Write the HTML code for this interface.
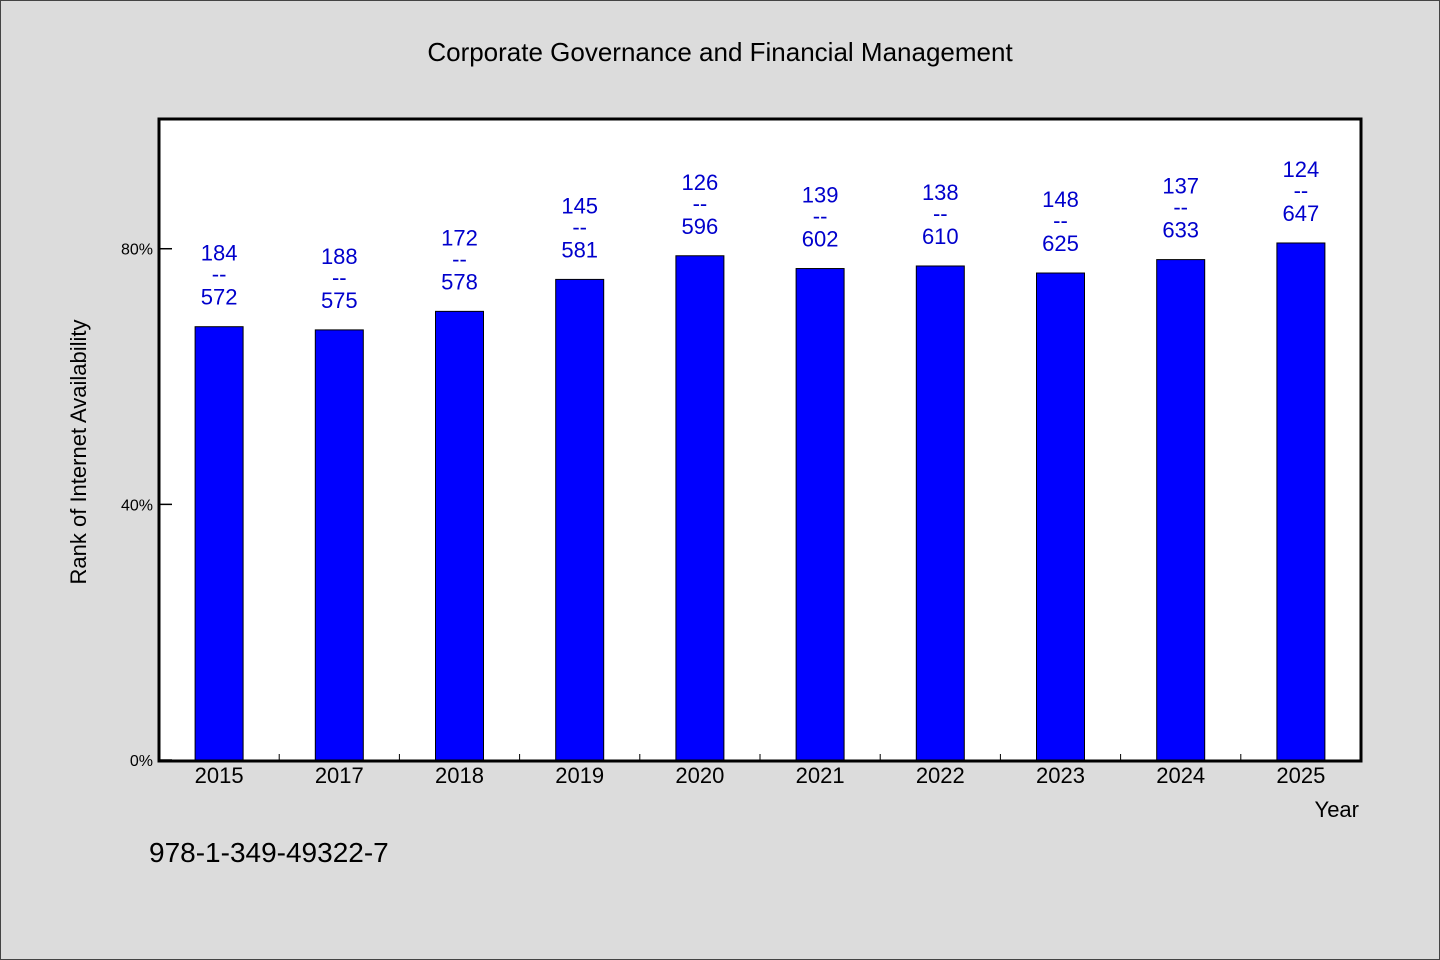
<!DOCTYPE html>
<html><head><meta charset="utf-8"><style>
body{margin:0;background:#dcdcdc;}
svg{display:block;font-family:"WenQuanYi Zen Hei","Liberation Sans",sans-serif;}
</style></head><body>
<svg width="1440" height="960" viewBox="0 0 1440 960">
<rect x="0.5" y="0.5" width="1439" height="959" fill="#dcdcdc" stroke="#444"/>
<text x="720" y="61" text-anchor="middle" font-size="26" fill="#000">Corporate Governance and Financial Management</text>
<rect x="159" y="119" width="1202" height="642" fill="#fff"/>
<g id="marks"></g>
<rect x="159" y="119" width="1202" height="642" fill="none" stroke="#000" stroke-width="3"/>
<text x="86" y="452" text-anchor="middle" font-size="22" transform="rotate(-90 86 452)">Rank of Internet Availability</text>
<text x="1359" y="817" text-anchor="end" font-size="22">Year</text>
<text x="149" y="862" font-size="28">978-1-349-49322-7</text>
</svg>
<script>
const categories=["2015","2017","2018","2019","2020","2021","2022","2023","2024","2025"];
const percentValues=[67.8,67.3,70.2,75.2,78.9,76.9,77.3,76.2,78.3,80.9];
const topLabels=["184","188","172","145","126","139","138","148","137","124"];
const bottomLabels=["572","575","578","581","596","602","610","625","633","647"];
const yTicks=[0,40,80];
const NS="http://www.w3.org/2000/svg";
const X0=159,X1=1361,Y0=760,Y1=119,YMAX=100.3;
const bw=(X1-X0)/categories.length;
const y=v=>Y0-(v/YMAX)*(Y0-Y1);
const x=i=>X0+bw*i+bw/2;
const g=document.getElementById('marks');
function mk(t,a){const e=document.createElementNS(NS,t);for(const k in a)e.setAttribute(k,a[k]);g.appendChild(e);return e;}
yTicks.forEach(t=>{
 const l=mk('line',{x1:X0,x2:X0+13,y1:y(t),y2:y(t),stroke:'#000','stroke-width':1.5});
 
 
 const tx=mk('text',{x:X0-6,y:y(t)+6,'text-anchor':'end','font-size':16});
 tx.textContent=t+'%';
 
 
});
categories.forEach((c,i)=>{
 if(i>0){const tk=mk('line',{x1:X0+bw*i,x2:X0+bw*i,y1:Y0,y2:Y0-6,stroke:'#000','stroke-width':1});
 
 }
 const top=y(percentValues[i]);
 const r=mk('rect',{x:x(i)-24,y:top,width:48,height:Y0-top,fill:'#0000ff',stroke:'#000','stroke-width':1});
 
 
 const lines=[topLabels[i],'--',bottomLabels[i]];
 [ -66,-45,-22].forEach((dy,k)=>{
  const t=mk('text',{x:x(i),y:top+dy,'text-anchor':'middle','font-size':22,fill:'#0000cc'});
  t.textContent=lines[k];
  
  
 });
 const xl=mk('text',{x:x(i),y:783,'text-anchor':'middle','font-size':22});
 xl.textContent=c;
 
 
});
</script>
</body></html>
